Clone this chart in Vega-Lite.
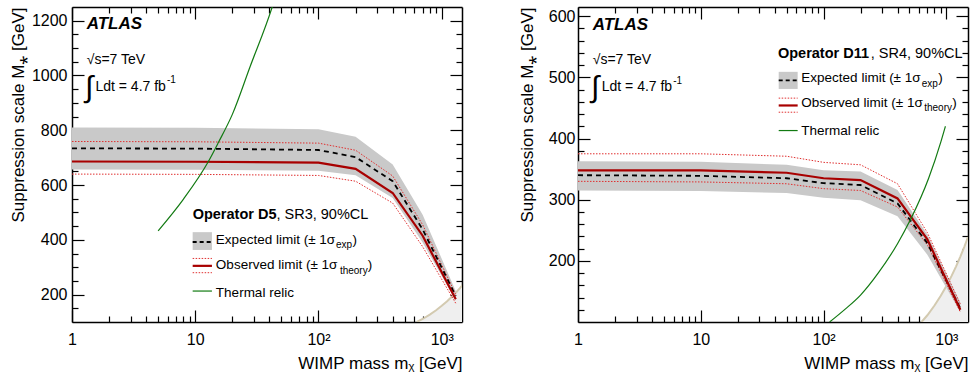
{
  "$schema": "https://vega.github.io/schema/vega-lite/v6.json",
  "padding": {"left": 9, "top": 6, "right": 4, "bottom": 4},
  "spacing": 55,
  "config": {
    "font": "Liberation Sans",
    "view": {"stroke": null},
    "scale": {"nice": false},
    "axis": {
      "domainColor": "black", "domainWidth": 1.5, "tickColor": "black", "tickWidth": 1.2,
      "labelFont": "Liberation Sans", "labelFontSize": 16, "labelColor": "black",
      "titleFont": "Liberation Sans", "titleFontSize": 17, "titleFontWeight": "normal", "titleColor": "black",
      "grid": false, "labelFlush": false, "labelOverlap": false, "labelBound": false, "zindex": 1
    }
  },
  "datasets": {
    "d5": [
      {"m": 1, "exp": 734, "expLo": 657, "expHi": 810, "obs": 686, "obsLo": 640, "obsHi": 759},
      {"m": 10, "exp": 733, "expLo": 656, "expHi": 809, "obs": 685, "obsLo": 639, "obsHi": 758},
      {"m": 100, "exp": 728, "expLo": 652, "expHi": 804, "obs": 682, "obsLo": 635, "obsHi": 753},
      {"m": 200, "exp": 702, "expLo": 636, "expHi": 776, "obs": 659, "obsLo": 614, "obsHi": 727},
      {"m": 400, "exp": 614, "expLo": 553, "expHi": 675, "obs": 571, "obsLo": 534, "obsHi": 633},
      {"m": 700, "exp": 438, "expLo": 390, "expHi": 492, "obs": 415, "obsLo": 375, "obsHi": 455},
      {"m": 1300, "exp": 195, "expLo": 178, "expHi": 212, "obs": 183, "obsLo": 168, "obsHi": 200}
    ],
    "d11": [
      {"m": 1, "exp": 340, "expLo": 315, "expHi": 363, "obs": 348, "obsLo": 330, "obsHi": 375},
      {"m": 10, "exp": 339, "expLo": 314, "expHi": 362, "obs": 348, "obsLo": 329, "obsHi": 375},
      {"m": 50, "exp": 335, "expLo": 311, "expHi": 357, "obs": 344, "obsLo": 326, "obsHi": 371},
      {"m": 100, "exp": 327, "expLo": 303, "expHi": 348, "obs": 335, "obsLo": 318, "obsHi": 361},
      {"m": 200, "exp": 324, "expLo": 299, "expHi": 346, "obs": 332, "obsLo": 315, "obsHi": 357},
      {"m": 400, "exp": 294, "expLo": 273, "expHi": 316, "obs": 302, "obsLo": 288, "obsHi": 326},
      {"m": 700, "exp": 229, "expLo": 210, "expHi": 243, "obs": 235, "obsLo": 226, "obsHi": 246},
      {"m": 1300, "exp": 122, "expLo": 116, "expHi": 132, "obs": 120, "obsLo": 116, "obsHi": 129}
    ],
    "val": [
      {"m": 628, "M": 100}, {"m": 700, "M": 111}, {"m": 800, "M": 127}, {"m": 900, "M": 143},
      {"m": 1000, "M": 159}, {"m": 1100, "M": 175}, {"m": 1200, "M": 191}, {"m": 1300, "M": 207},
      {"m": 1400, "M": 223}, {"m": 1500, "M": 239}
    ],
    "r5": [
      {"m": 5, "M": 433}, {"m": 8, "M": 548}, {"m": 12.75, "M": 685}, {"m": 15.4, "M": 755},
      {"m": 20, "M": 858}, {"m": 27.8, "M": 1031}, {"m": 42.4, "M": 1254}, {"m": 55, "M": 1428}
    ],
    "r11": [
      {"m": 112, "M": 100}, {"m": 150, "M": 121}, {"m": 200, "M": 144}, {"m": 281, "M": 181},
      {"m": 400, "M": 228}, {"m": 509, "M": 267}, {"m": 717, "M": 335}, {"m": 903, "M": 395}, {"m": 982, "M": 420}
    ]
  },
  "hconcat": [
    {
      "width": 390, "height": 315,
      "layer": [
        {"data": {"name": "val"}, "mark": {"type": "area", "color": "#efefef", "clip": true},
         "encoding": {
           "x": {"field": "m", "type": "quantitative", "scale": {"type": "log", "domain": [1, 1460], "nice": false},
                 "axis": {"orient": "bottom", "values": [1,2,3,4,5,6,7,8,9,10,20,30,40,50,60,70,80,90,100,200,300,400,500,600,700,800,900,1000],
                          "labelExpr": "datum.value == 1 ? '1' : datum.value == 10 ? '10' : datum.value == 100 ? '10²' : datum.value == 1000 ? '10³' : ''",
                          "tickSize": {"condition": {"test": "datum.value == 1 || datum.value == 10 || datum.value == 100 || datum.value == 1000", "value": -12}, "value": -6},
                          "labelPadding": 21, "title": "WIMP mass mᵪ [GeV]", "titleAnchor": "end", "titlePadding": 2}},
           "y": {"field": "M", "type": "quantitative", "scale": {"domain": [100, 1250], "nice": false, "zero": false},
                 "axis": {"orient": "left", "values": [150,200,250,300,350,400,450,500,550,600,650,700,750,800,850,900,950,1000,1050,1100,1150,1200],
                          "labelExpr": "datum.value % 200 == 0 ? '' + datum.value : ''",
                          "tickSize": {"condition": {"test": "datum.value % 200 == 0", "value": -12}, "value": -6},
                          "labelPadding": 17, "title": "Suppression scale M⁎ [GeV]", "titleAnchor": "end", "titlePadding": 4}},
           "y2": {"datum": 100}
         }},
        {"data": {"name": "val"}, "mark": {"type": "line", "color": "#d3cab0", "strokeWidth": 2, "clip": true},
         "encoding": {
           "x": {"field": "m", "type": "quantitative", "scale": {"type": "log"},
                 "axis": {"orient": "top", "values": [1,2,3,4,5,6,7,8,9,10,20,30,40,50,60,70,80,90,100,200,300,400,500,600,700,800,900,1000],
                          "labels": false, "title": null,
                          "tickSize": {"condition": {"test": "datum.value == 1 || datum.value == 10 || datum.value == 100 || datum.value == 1000", "value": -12}, "value": -6}}},
           "y": {"field": "M", "type": "quantitative",
                 "axis": {"orient": "right", "values": [150,200,250,300,350,400,450,500,550,600,650,700,750,800,850,900,950,1000,1050,1100,1150,1200],
                          "labels": false, "title": null,
                          "tickSize": {"condition": {"test": "datum.value % 200 == 0", "value": -12}, "value": -6}}}
         }},
        {"data": {"name": "d5"}, "mark": {"type": "area", "color": "#c9c9c9", "clip": true},
         "encoding": {"x": {"field": "m", "type": "quantitative", "scale": {"type": "log"}, "axis": null},
                      "y": {"field": "expLo", "type": "quantitative", "axis": null}, "y2": {"field": "expHi"}}},
        {"data": {"name": "d5"}, "mark": {"type": "line", "color": "#e03030", "strokeWidth": 1, "strokeDash": [1.5, 1.5], "clip": true},
         "encoding": {"x": {"field": "m", "type": "quantitative", "scale": {"type": "log"}, "axis": null},
                      "y": {"field": "obsHi", "type": "quantitative", "axis": null}}},
        {"data": {"name": "d5"}, "mark": {"type": "line", "color": "#e03030", "strokeWidth": 1, "strokeDash": [1.5, 1.5], "clip": true},
         "encoding": {"x": {"field": "m", "type": "quantitative", "scale": {"type": "log"}, "axis": null},
                      "y": {"field": "obsLo", "type": "quantitative", "axis": null}}},
        {"data": {"name": "d5"}, "mark": {"type": "line", "color": "black", "strokeWidth": 1.8, "strokeDash": [5, 4], "clip": true},
         "encoding": {"x": {"field": "m", "type": "quantitative", "scale": {"type": "log"}, "axis": null},
                      "y": {"field": "exp", "type": "quantitative", "axis": null}}},
        {"data": {"name": "d5"}, "mark": {"type": "line", "color": "#a80000", "strokeWidth": 2.2, "clip": true},
         "encoding": {"x": {"field": "m", "type": "quantitative", "scale": {"type": "log"}, "axis": null},
                      "y": {"field": "obs", "type": "quantitative", "axis": null}}},
        {"data": {"name": "r5"}, "mark": {"type": "line", "color": "#127a12", "strokeWidth": 1.2, "interpolate": "monotone", "clip": true},
         "encoding": {"x": {"field": "m", "type": "quantitative", "scale": {"type": "log"}, "axis": null},
                      "y": {"field": "M", "type": "quantitative", "axis": null}}},
        {"data": {"values": [{}]}, "mark": {"type": "rect", "color": "#c9c9c9"},
         "encoding": {"x": {"datum": 9.53, "type": "quantitative", "scale": {"type": "log"}, "axis": null}, "x2": {"datum": 13.66},
                      "y": {"datum": 428, "type": "quantitative", "axis": null}, "y2": {"datum": 363}}},
        {"data": {"values": [{}]}, "mark": {"type": "rule", "color": "black", "strokeWidth": 1.8, "strokeDash": [4, 3]},
         "encoding": {"x": {"datum": 9.53, "type": "quantitative", "scale": {"type": "log"}, "axis": null}, "x2": {"datum": 13.66},
                      "y": {"datum": 392, "type": "quantitative", "axis": null}}},
        {"data": {"values": [{}]}, "mark": {"type": "rule", "color": "#e03030", "strokeWidth": 1, "strokeDash": [1.5, 1.5]},
         "encoding": {"x": {"datum": 9.53, "type": "quantitative", "scale": {"type": "log"}, "axis": null}, "x2": {"datum": 13.66},
                      "y": {"datum": 332, "type": "quantitative", "axis": null}}},
        {"data": {"values": [{}]}, "mark": {"type": "rule", "color": "#e03030", "strokeWidth": 1, "strokeDash": [1.5, 1.5]},
         "encoding": {"x": {"datum": 9.53, "type": "quantitative", "scale": {"type": "log"}, "axis": null}, "x2": {"datum": 13.66},
                      "y": {"datum": 280, "type": "quantitative", "axis": null}}},
        {"data": {"values": [{}]}, "mark": {"type": "rule", "color": "#a80000", "strokeWidth": 2.2},
         "encoding": {"x": {"datum": 9.53, "type": "quantitative", "scale": {"type": "log"}, "axis": null}, "x2": {"datum": 13.66},
                      "y": {"datum": 305, "type": "quantitative", "axis": null}}},
        {"data": {"values": [{}]}, "mark": {"type": "rule", "color": "#127a12", "strokeWidth": 1.2},
         "encoding": {"x": {"datum": 9.53, "type": "quantitative", "scale": {"type": "log"}, "axis": null}, "x2": {"datum": 13.66},
                      "y": {"datum": 213, "type": "quantitative", "axis": null}}},
        {"data": {"values": [{}]}, "mark": {"type": "text", "text": "ATLAS", "fontSize": 17, "fontWeight": "bold", "fontStyle": "italic", "align": "left", "baseline": "alphabetic", "color": "black"},
         "encoding": {"x": {"datum": 1.316, "type": "quantitative", "scale": {"type": "log"}, "axis": null}, "y": {"datum": 1170, "type": "quantitative", "axis": null}}},
        {"data": {"values": [{}]}, "mark": {"type": "text", "text": "√s=7 TeV", "fontSize": 14, "align": "left", "baseline": "alphabetic", "color": "black"},
         "encoding": {"x": {"datum": 1.316, "type": "quantitative", "scale": {"type": "log"}, "axis": null}, "y": {"datum": 1043, "type": "quantitative", "axis": null}}},
        {"data": {"values": [{}]}, "mark": {"type": "text", "text": "∫", "fontSize": 30, "align": "center", "baseline": "middle", "color": "black"},
         "encoding": {"x": {"datum": 1.374, "type": "quantitative", "scale": {"type": "log"}, "axis": null}, "y": {"datum": 956, "type": "quantitative", "axis": null}}},
        {"data": {"values": [{}]}, "mark": {"type": "text", "text": "Ldt = 4.7 fb", "fontSize": 14, "align": "left", "baseline": "alphabetic", "color": "black"},
         "encoding": {"x": {"datum": 1.55, "type": "quantitative", "scale": {"type": "log"}, "axis": null}, "y": {"datum": 945, "type": "quantitative", "axis": null}}},
        {"data": {"values": [{}]}, "mark": {"type": "text", "text": "-1", "fontSize": 10, "align": "left", "baseline": "alphabetic", "color": "black"},
         "encoding": {"x": {"datum": 5.89, "type": "quantitative", "scale": {"type": "log"}, "axis": null}, "y": {"datum": 971, "type": "quantitative", "axis": null}}},
        {"data": {"values": [{}]}, "mark": {"type": "text", "text": "Operator D5", "fontSize": 14.5, "fontWeight": "bold", "align": "left", "baseline": "alphabetic", "color": "black"},
         "encoding": {"x": {"datum": 9.53, "type": "quantitative", "scale": {"type": "log"}, "axis": null}, "y": {"datum": 476, "type": "quantitative", "axis": null}}},
        {"data": {"values": [{}]}, "mark": {"type": "text", "text": ", SR3, 90%CL", "fontSize": 14.5, "align": "left", "baseline": "alphabetic", "color": "black"},
         "encoding": {"x": {"datum": 45.6, "type": "quantitative", "scale": {"type": "log"}, "axis": null}, "y": {"datum": 476, "type": "quantitative", "axis": null}}},
        {"data": {"values": [{}]}, "mark": {"type": "text", "text": "Expected limit (± 1σ", "fontSize": 13.5, "align": "left", "baseline": "alphabetic", "color": "black"},
         "encoding": {"x": {"datum": 14.7, "type": "quantitative", "scale": {"type": "log"}, "axis": null}, "y": {"datum": 384, "type": "quantitative", "axis": null}}},
        {"data": {"values": [{}]}, "mark": {"type": "text", "text": "exp", "fontSize": 10, "align": "left", "baseline": "alphabetic", "color": "black"},
         "encoding": {"x": {"datum": 138.4, "type": "quantitative", "scale": {"type": "log"}, "axis": null}, "y": {"datum": 369, "type": "quantitative", "axis": null}}},
        {"data": {"values": [{}]}, "mark": {"type": "text", "text": ")", "fontSize": 13.5, "align": "left", "baseline": "alphabetic", "color": "black"},
         "encoding": {"x": {"datum": 188.4, "type": "quantitative", "scale": {"type": "log"}, "axis": null}, "y": {"datum": 384, "type": "quantitative", "axis": null}}},
        {"data": {"values": [{}]}, "mark": {"type": "text", "text": "Observed limit (± 1σ", "fontSize": 13.5, "align": "left", "baseline": "alphabetic", "color": "black"},
         "encoding": {"x": {"datum": 14.7, "type": "quantitative", "scale": {"type": "log"}, "axis": null}, "y": {"datum": 292, "type": "quantitative", "axis": null}}},
        {"data": {"values": [{}]}, "mark": {"type": "text", "text": "theory", "fontSize": 10, "align": "left", "baseline": "alphabetic", "color": "black"},
         "encoding": {"x": {"datum": 149.1, "type": "quantitative", "scale": {"type": "log"}, "axis": null}, "y": {"datum": 277, "type": "quantitative", "axis": null}}},
        {"data": {"values": [{}]}, "mark": {"type": "text", "text": ")", "fontSize": 13.5, "align": "left", "baseline": "alphabetic", "color": "black"},
         "encoding": {"x": {"datum": 250.6, "type": "quantitative", "scale": {"type": "log"}, "axis": null}, "y": {"datum": 292, "type": "quantitative", "axis": null}}},
        {"data": {"values": [{}]}, "mark": {"type": "text", "text": "Thermal relic", "fontSize": 13.5, "align": "left", "baseline": "alphabetic", "color": "black"},
         "encoding": {"x": {"datum": 14.7, "type": "quantitative", "scale": {"type": "log"}, "axis": null}, "y": {"datum": 190, "type": "quantitative", "axis": null}}}
      ]
    },
    {
      "width": 390, "height": 315,
      "layer": [
        {"data": {"name": "val"}, "mark": {"type": "area", "color": "#efefef", "clip": true},
         "encoding": {
           "x": {"field": "m", "type": "quantitative", "scale": {"type": "log", "domain": [1, 1500], "nice": false},
                 "axis": {"orient": "bottom", "values": [1,2,3,4,5,6,7,8,9,10,20,30,40,50,60,70,80,90,100,200,300,400,500,600,700,800,900,1000],
                          "labelExpr": "datum.value == 1 ? '1' : datum.value == 10 ? '10' : datum.value == 100 ? '10²' : datum.value == 1000 ? '10³' : ''",
                          "tickSize": {"condition": {"test": "datum.value == 1 || datum.value == 10 || datum.value == 100 || datum.value == 1000", "value": -12}, "value": -6},
                          "labelPadding": 21, "title": "WIMP mass mᵪ [GeV]", "titleAnchor": "end", "titlePadding": 2}},
           "y": {"field": "M", "type": "quantitative", "scale": {"domain": [100, 615], "nice": false, "zero": false},
                 "axis": {"orient": "left", "values": [120,140,160,180,200,220,240,260,280,300,320,340,360,380,400,420,440,460,480,500,520,540,560,580,600],
                          "labelExpr": "datum.value % 100 == 0 ? '' + datum.value : ''",
                          "tickSize": {"condition": {"test": "datum.value % 100 == 0", "value": -12}, "value": -6},
                          "labelPadding": 15, "title": "Suppression scale M⁎ [GeV]", "titleAnchor": "end", "titlePadding": 12}},
           "y2": {"datum": 100}
         }},
        {"data": {"name": "val"}, "mark": {"type": "line", "color": "#d3cab0", "strokeWidth": 2, "clip": true},
         "encoding": {
           "x": {"field": "m", "type": "quantitative", "scale": {"type": "log"},
                 "axis": {"orient": "top", "values": [1,2,3,4,5,6,7,8,9,10,20,30,40,50,60,70,80,90,100,200,300,400,500,600,700,800,900,1000],
                          "labels": false, "title": null,
                          "tickSize": {"condition": {"test": "datum.value == 1 || datum.value == 10 || datum.value == 100 || datum.value == 1000", "value": -12}, "value": -6}}},
           "y": {"field": "M", "type": "quantitative",
                 "axis": {"orient": "right", "values": [120,140,160,180,200,220,240,260,280,300,320,340,360,380,400,420,440,460,480,500,520,540,560,580,600],
                          "labels": false, "title": null,
                          "tickSize": {"condition": {"test": "datum.value % 100 == 0", "value": -12}, "value": -6}}}
         }},
        {"data": {"name": "d11"}, "mark": {"type": "area", "color": "#c9c9c9", "clip": true},
         "encoding": {"x": {"field": "m", "type": "quantitative", "scale": {"type": "log"}, "axis": null},
                      "y": {"field": "expLo", "type": "quantitative", "axis": null}, "y2": {"field": "expHi"}}},
        {"data": {"name": "d11"}, "mark": {"type": "line", "color": "#e03030", "strokeWidth": 1, "strokeDash": [1.5, 1.5], "clip": true},
         "encoding": {"x": {"field": "m", "type": "quantitative", "scale": {"type": "log"}, "axis": null},
                      "y": {"field": "obsHi", "type": "quantitative", "axis": null}}},
        {"data": {"name": "d11"}, "mark": {"type": "line", "color": "#e03030", "strokeWidth": 1, "strokeDash": [1.5, 1.5], "clip": true},
         "encoding": {"x": {"field": "m", "type": "quantitative", "scale": {"type": "log"}, "axis": null},
                      "y": {"field": "obsLo", "type": "quantitative", "axis": null}}},
        {"data": {"name": "d11"}, "mark": {"type": "line", "color": "black", "strokeWidth": 1.8, "strokeDash": [5, 4], "clip": true},
         "encoding": {"x": {"field": "m", "type": "quantitative", "scale": {"type": "log"}, "axis": null},
                      "y": {"field": "exp", "type": "quantitative", "axis": null}}},
        {"data": {"name": "d11"}, "mark": {"type": "line", "color": "#a80000", "strokeWidth": 2.2, "clip": true},
         "encoding": {"x": {"field": "m", "type": "quantitative", "scale": {"type": "log"}, "axis": null},
                      "y": {"field": "obs", "type": "quantitative", "axis": null}}},
        {"data": {"name": "r11"}, "mark": {"type": "line", "color": "#127a12", "strokeWidth": 1.2, "interpolate": "monotone", "clip": true},
         "encoding": {"x": {"field": "m", "type": "quantitative", "scale": {"type": "log"}, "axis": null},
                      "y": {"field": "M", "type": "quantitative", "axis": null}}},
        {"data": {"values": [{}]}, "mark": {"type": "rect", "color": "#c9c9c9"},
         "encoding": {"x": {"datum": 43.1, "type": "quantitative", "scale": {"type": "log"}, "axis": null}, "x2": {"datum": 61.5},
                      "y": {"datum": 509, "type": "quantitative", "axis": null}, "y2": {"datum": 481}}},
        {"data": {"values": [{}]}, "mark": {"type": "rule", "color": "black", "strokeWidth": 1.8, "strokeDash": [4, 3]},
         "encoding": {"x": {"datum": 43.1, "type": "quantitative", "scale": {"type": "log"}, "axis": null}, "x2": {"datum": 61.5},
                      "y": {"datum": 495, "type": "quantitative", "axis": null}}},
        {"data": {"values": [{}]}, "mark": {"type": "rule", "color": "#e03030", "strokeWidth": 1, "strokeDash": [1.5, 1.5]},
         "encoding": {"x": {"datum": 43.1, "type": "quantitative", "scale": {"type": "log"}, "axis": null}, "x2": {"datum": 61.5},
                      "y": {"datum": 466, "type": "quantitative", "axis": null}}},
        {"data": {"values": [{}]}, "mark": {"type": "rule", "color": "#e03030", "strokeWidth": 1, "strokeDash": [1.5, 1.5]},
         "encoding": {"x": {"datum": 43.1, "type": "quantitative", "scale": {"type": "log"}, "axis": null}, "x2": {"datum": 61.5},
                      "y": {"datum": 443, "type": "quantitative", "axis": null}}},
        {"data": {"values": [{}]}, "mark": {"type": "rule", "color": "#a80000", "strokeWidth": 2.2},
         "encoding": {"x": {"datum": 43.1, "type": "quantitative", "scale": {"type": "log"}, "axis": null}, "x2": {"datum": 61.5},
                      "y": {"datum": 454, "type": "quantitative", "axis": null}}},
        {"data": {"values": [{}]}, "mark": {"type": "rule", "color": "#127a12", "strokeWidth": 1.2},
         "encoding": {"x": {"datum": 43.1, "type": "quantitative", "scale": {"type": "log"}, "axis": null}, "x2": {"datum": 61.5},
                      "y": {"datum": 413, "type": "quantitative", "axis": null}}},
        {"data": {"values": [{}]}, "mark": {"type": "text", "text": "ATLAS", "fontSize": 17, "fontWeight": "bold", "fontStyle": "italic", "align": "left", "baseline": "alphabetic", "color": "black"},
         "encoding": {"x": {"datum": 1.318, "type": "quantitative", "scale": {"type": "log"}, "axis": null}, "y": {"datum": 577, "type": "quantitative", "axis": null}}},
        {"data": {"values": [{}]}, "mark": {"type": "text", "text": "√s=7 TeV", "fontSize": 14, "align": "left", "baseline": "alphabetic", "color": "black"},
         "encoding": {"x": {"datum": 1.318, "type": "quantitative", "scale": {"type": "log"}, "axis": null}, "y": {"datum": 521, "type": "quantitative", "axis": null}}},
        {"data": {"values": [{}]}, "mark": {"type": "text", "text": "∫", "fontSize": 30, "align": "center", "baseline": "middle", "color": "black"},
         "encoding": {"x": {"datum": 1.38, "type": "quantitative", "scale": {"type": "log"}, "axis": null}, "y": {"datum": 482, "type": "quantitative", "axis": null}}},
        {"data": {"values": [{}]}, "mark": {"type": "text", "text": "Ldt = 4.7 fb", "fontSize": 14, "align": "left", "baseline": "alphabetic", "color": "black"},
         "encoding": {"x": {"datum": 1.56, "type": "quantitative", "scale": {"type": "log"}, "axis": null}, "y": {"datum": 477, "type": "quantitative", "axis": null}}},
        {"data": {"values": [{}]}, "mark": {"type": "text", "text": "-1", "fontSize": 10, "align": "left", "baseline": "alphabetic", "color": "black"},
         "encoding": {"x": {"datum": 5.96, "type": "quantitative", "scale": {"type": "log"}, "axis": null}, "y": {"datum": 489, "type": "quantitative", "axis": null}}},
        {"data": {"values": [{}]}, "mark": {"type": "text", "text": "Operator D11", "fontSize": 14.5, "fontWeight": "bold", "align": "left", "baseline": "alphabetic", "color": "black"},
         "encoding": {"x": {"datum": 42.5, "type": "quantitative", "scale": {"type": "log"}, "axis": null}, "y": {"datum": 531, "type": "quantitative", "axis": null}}},
        {"data": {"values": [{}]}, "mark": {"type": "text", "text": ", SR4, 90%CL", "fontSize": 14.5, "align": "left", "baseline": "alphabetic", "color": "black"},
         "encoding": {"x": {"datum": 241.9, "type": "quantitative", "scale": {"type": "log"}, "axis": null}, "y": {"datum": 531, "type": "quantitative", "axis": null}}},
        {"data": {"values": [{}]}, "mark": {"type": "text", "text": "Expected limit (± 1σ", "fontSize": 13.5, "align": "left", "baseline": "alphabetic", "color": "black"},
         "encoding": {"x": {"datum": 65.9, "type": "quantitative", "scale": {"type": "log"}, "axis": null}, "y": {"datum": 492, "type": "quantitative", "axis": null}}},
        {"data": {"values": [{}]}, "mark": {"type": "text", "text": "exp", "fontSize": 10, "align": "left", "baseline": "alphabetic", "color": "black"},
         "encoding": {"x": {"datum": 629.5, "type": "quantitative", "scale": {"type": "log"}, "axis": null}, "y": {"datum": 485, "type": "quantitative", "axis": null}}},
        {"data": {"values": [{}]}, "mark": {"type": "text", "text": ")", "fontSize": 13.5, "align": "left", "baseline": "alphabetic", "color": "black"},
         "encoding": {"x": {"datum": 857.5, "type": "quantitative", "scale": {"type": "log"}, "axis": null}, "y": {"datum": 492, "type": "quantitative", "axis": null}}},
        {"data": {"values": [{}]}, "mark": {"type": "text", "text": "Observed limit (± 1σ", "fontSize": 13.5, "align": "left", "baseline": "alphabetic", "color": "black"},
         "encoding": {"x": {"datum": 65.9, "type": "quantitative", "scale": {"type": "log"}, "axis": null}, "y": {"datum": 451, "type": "quantitative", "axis": null}}},
        {"data": {"values": [{}]}, "mark": {"type": "text", "text": "theory", "fontSize": 10, "align": "left", "baseline": "alphabetic", "color": "black"},
         "encoding": {"x": {"datum": 659.6, "type": "quantitative", "scale": {"type": "log"}, "axis": null}, "y": {"datum": 444.5, "type": "quantitative", "axis": null}}},
        {"data": {"values": [{}]}, "mark": {"type": "text", "text": ")", "fontSize": 13.5, "align": "left", "baseline": "alphabetic", "color": "black"},
         "encoding": {"x": {"datum": 1114, "type": "quantitative", "scale": {"type": "log"}, "axis": null}, "y": {"datum": 451, "type": "quantitative", "axis": null}}},
        {"data": {"values": [{}]}, "mark": {"type": "text", "text": "Thermal relic", "fontSize": 13.5, "align": "left", "baseline": "alphabetic", "color": "black"},
         "encoding": {"x": {"datum": 65.9, "type": "quantitative", "scale": {"type": "log"}, "axis": null}, "y": {"datum": 405, "type": "quantitative", "axis": null}}}
      ]
    }
  ]
}
